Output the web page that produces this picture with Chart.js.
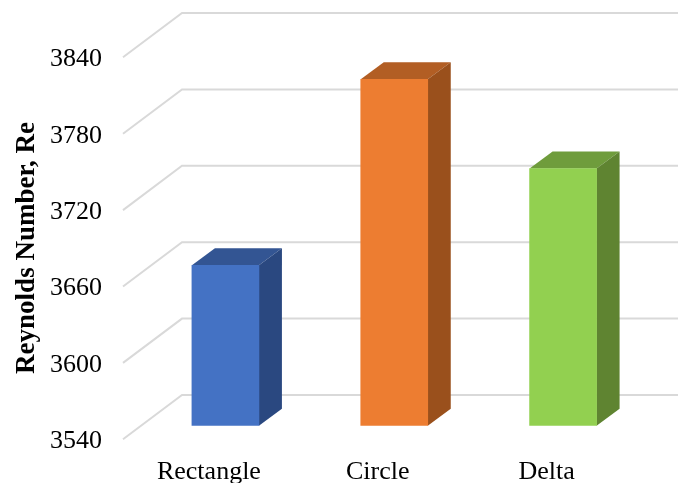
<!DOCTYPE html>
<html>
<head>
<meta charset="utf-8">
<title>Reynolds number by shape</title>
<script src="https://cdn.jsdelivr.net/npm/chart.js@4"></script>
<style>
  html, body { margin: 0; padding: 0; background: #ffffff; overflow: hidden; }
  canvas { display: block; }
</style>
</head>
<body>
<canvas id="reynoldsChart" width="678" height="483"></canvas>
<script>
const shapes = ["Rectangle", "Circle", "Delta"];
const reynolds = [3666, 3812, 3742];
const yTicks = [3540, 3600, 3660, 3720, 3780, 3840];
const yTitle = "Reynolds Number, Re";

const frontColors = ["#4472c4", "#ed7d31", "#92d050"];
const topColors = ["#335593", "#b25e24", "#6f9c3c"];
const sideColors = ["#2a4880", "#9a501c", "#5f8431"];

const fontFamily = "'Liberation Serif', 'Times New Roman', serif";

// depth of each column
const barDepthX = 23;
const barDepthY = 17;

// the walls sit in front of and behind the plane the columns stand on
const wallFrontX = 123;
const wallFrontDrop = 13.6;
const wallBackX = 182;
const wallBackRise = 30.7;

const perspectiveBars = {
  id: "perspectiveBars",
  beforeDatasetsDraw(chart) {
    const ctx = chart.ctx;
    const yScale = chart.scales.y;

    ctx.save();
    ctx.strokeStyle = "#d9d9d9";
    ctx.lineWidth = 2;
    yTicks.forEach((tick) => {
      const y = yScale.getPixelForValue(tick);
      ctx.beginPath();
      ctx.moveTo(wallFrontX, y + wallFrontDrop);
      ctx.lineTo(wallBackX, y - wallBackRise);
      ctx.lineTo(chart.width, y - wallBackRise);
      ctx.stroke();
    });

    // bar.base is the pixel of zero, which is far below this axis
    const floor = yScale.getPixelForValue(yScale.min);

    chart.getDatasetMeta(0).data.forEach((bar, i) => {
      const left = bar.x - bar.width / 2;
      const right = bar.x + bar.width / 2;

      ctx.fillStyle = topColors[i];
      ctx.beginPath();
      ctx.moveTo(left, bar.y);
      ctx.lineTo(left + barDepthX, bar.y - barDepthY);
      ctx.lineTo(right + barDepthX, bar.y - barDepthY);
      ctx.lineTo(right, bar.y);
      ctx.closePath();
      ctx.fill();

      ctx.fillStyle = sideColors[i];
      ctx.beginPath();
      ctx.moveTo(right, bar.y);
      ctx.lineTo(right + barDepthX, bar.y - barDepthY);
      ctx.lineTo(right + barDepthX, floor - barDepthY);
      ctx.lineTo(right, floor);
      ctx.closePath();
      ctx.fill();
    });
    ctx.restore();
  },
  afterDraw(chart) {
    const ctx = chart.ctx;
    ctx.save();
    ctx.translate(27, 248);
    ctx.rotate(-Math.PI / 2);
    ctx.font = "bold 27px " + fontFamily;
    ctx.fillStyle = "#000000";
    ctx.textAlign = "center";
    ctx.textBaseline = "middle";
    ctx.fillText(yTitle, 0, 0);
    ctx.restore();
  },
};

new Chart(document.getElementById("reynoldsChart"), {
  type: "bar",
  data: {
    labels: shapes,
    datasets: [
      {
        data: reynolds,
        backgroundColor: frontColors,
        barThickness: 67,
      },
    ],
  },
  options: {
    responsive: false,
    animation: false,
    layout: { padding: { top: 43.7, right: 30.5, left: 0, bottom: 0 } },
    plugins: {
      legend: { display: false },
      tooltip: { enabled: false },
    },
    scales: {
      x: {
        grid: { display: false, drawTicks: false },
        border: { display: false },
        ticks: {
          color: "#000000",
          font: { family: fontFamily, size: 26 },
          labelOffset: -16.5,
          padding: 31,
          maxRotation: 0,
        },
        afterFit(scale) {
          scale.height = 57.3;
          scale.paddingLeft = 0;
          scale.paddingRight = 0;
        },
      },
      y: {
        min: 3540,
        max: 3840,
        afterBuildTicks(scale) {
          scale.ticks = yTicks.map((value) => ({ value }));
        },
        grid: { display: false, drawTicks: false },
        border: { display: false },
        ticks: {
          color: "#000000",
          font: { family: fontFamily, size: 26 },
          labelOffset: 15.6,
          padding: 39,
          callback: (value) => String(value),
        },
        afterFit(scale) {
          scale.width = 141;
          scale.paddingTop = 0;
          scale.paddingBottom = 0;
        },
      },
    },
  },
  plugins: [perspectiveBars],
});
</script>
</body>
</html>
